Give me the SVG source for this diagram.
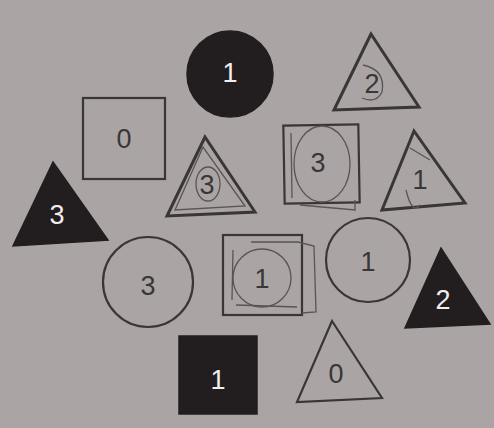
<svg xmlns="http://www.w3.org/2000/svg" width="494" height="428" viewBox="0 0 494 428">
<style>
.o{fill:none;stroke:#3b3636;stroke-width:2.2}
.os{fill:none;stroke:#5a5454;stroke-width:1.3}
.k{fill:#221d1e;stroke:#221d1e;stroke-width:1.5}
.t{font-family:"Liberation Sans",Arial,sans-serif;font-size:27px;fill:#3b3636;text-anchor:middle;dominant-baseline:central}
.w{fill:#f2eeee}
</style>
<rect width="494" height="428" fill="#aaa5a4"/>
<g id="circle-black-1"><circle class="k" cx="230" cy="74" r="43"/><text class="t w" x="230" y="73">1</text></g>
<g id="triangle-2"><polygon class="o" points="371,34 334,110 419,107" style="stroke-width:3"/><path class="os" d="M363,65 Q386,70 382,92 Q376,104 362,98"/><text class="t" x="372" y="84">2</text></g>
<g id="square-0"><rect class="o" x="83" y="98" width="82" height="81"/><text class="t" x="124" y="139">0</text></g>
<g id="triangle-3"><polygon class="o" points="205,137 167,216 255,212" style="stroke-width:3"/><polygon class="os" points="203,147 175,210 245,206"/><ellipse class="os" cx="208" cy="184" rx="12" ry="17"/><text class="t" x="207" y="185">3</text></g>
<g id="square-3"><rect class="o" x="284" y="125" width="75" height="78" transform="rotate(-1 321 164)"/><ellipse class="os" cx="322" cy="164" rx="28" ry="38"/><path class="os" d="M291,133 L292,198 M300,205 L355,210 L355,200"/><text class="t" x="318" y="163">3</text></g>
<g id="triangle-1"><polygon class="o" points="414,131 382,210 465,203" style="stroke-width:3"/><path class="os" d="M410,148 L430,160 M406,190 Q412,215 420,205"/><text class="t" x="420" y="180">1</text></g>
<g id="triangle-black-3"><polygon class="k" points="53,162 13,246 108,240"/><text class="t w" x="57" y="215">3</text></g>
<g id="circle-3"><circle class="o" cx="148" cy="282" r="45"/><text class="t" x="148" y="286">3</text></g>
<g id="square-1"><rect class="o" x="223" y="235" width="79" height="80"/><path class="os" d="M251,242 L298,242 L314,246 L316,312 L302,313 M233,250 L232,300 M236,305 L297,307"/><circle class="os" cx="262" cy="278" r="29"/><text class="t" x="262" y="279">1</text></g>
<g id="circle-1"><circle class="o" cx="368" cy="260" r="42"/><text class="t" x="368" y="262">1</text></g>
<g id="triangle-black-2"><polygon class="k" points="441,248 405,328 490,324"/><text class="t w" x="443" y="300">2</text></g>
<g id="square-black-1"><rect class="k" x="179" y="336" width="78" height="78"/><text class="t w" x="218" y="380">1</text></g>
<g id="triangle-0"><polygon class="o" points="332,321 297,402 382,398"/><text class="t" x="336" y="374">0</text></g>
</svg>
